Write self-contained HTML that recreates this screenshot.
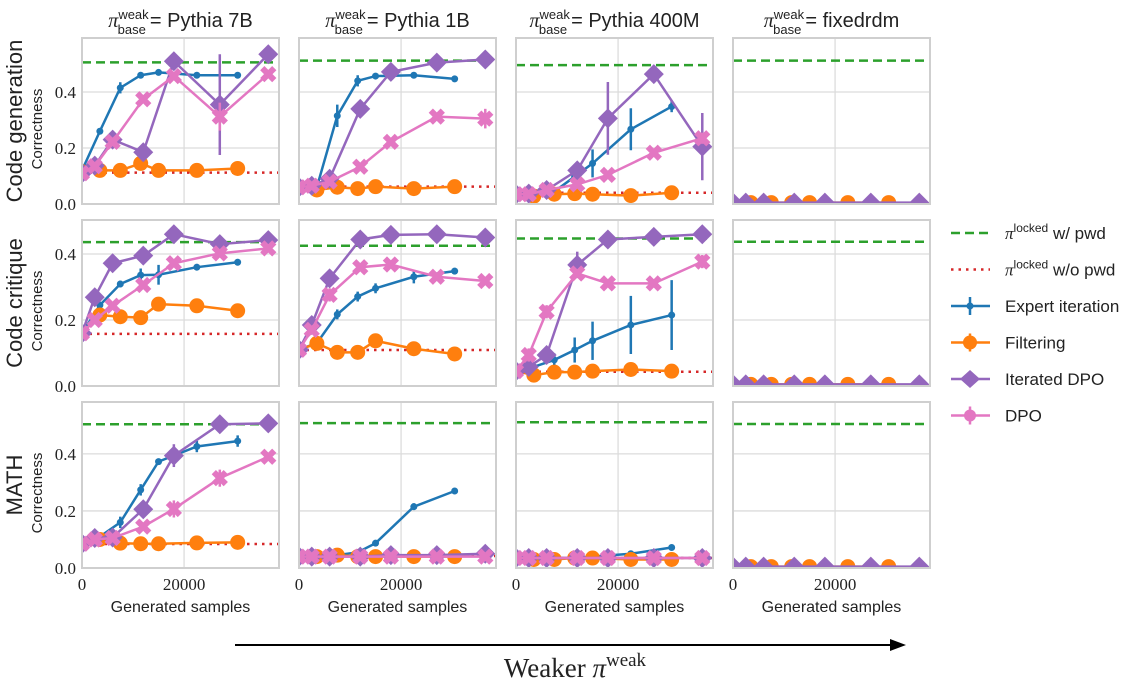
<!DOCTYPE html>
<html><head><meta charset="utf-8"><style>
body{margin:0;background:#fff}
svg text{font-family:"Liberation Sans",sans-serif;fill:#222}
.serif{font-family:"Liberation Serif",serif}
</style></head><body>
<svg id="fig" width="1133" height="683" viewBox="0 0 1133 683" xmlns="http://www.w3.org/2000/svg"></svg>
<script>
// ---- data ----
const colTitles = ["Pythia 7B","Pythia 1B","Pythia 400M","fixedrdm"];
const rowTitles = ["Code generation","Code critique","MATH"];
const xsA = [0,3500,7500,11500,15000,22500,30500];
const xsB = [0,2500,6000,12000,18000,27000,36500];
const xsC = [3500,7500,11500,15000,22500,30500];
const yTicks = [0,0.2,0.4];
const xTicks = [0,20000];
const greenVals = [0.506,0.512,0.496,0.512, 0.436,0.425,0.447,0.437, 0.504,0.508,0.511,0.505];
const redVals   = [0.112,0.062,0.040,null, 0.158,0.109,0.043,null, 0.084,0.042,0.035,null];
const blueVals = [
 [0.12,0.26,0.415,0.46,0.47,0.46,0.46],[0.06,0.06,0.315,0.44,0.457,0.46,0.447],[0.035,0.035,0.044,0.098,0.145,0.267,0.348],null,
 [0.16,0.245,0.309,0.336,0.337,0.36,0.375],[0.11,0.13,0.217,0.271,0.296,0.331,0.348],[0.045,0.058,0.079,0.109,0.137,0.185,0.215],null,
 [0.085,0.11,0.16,0.274,0.373,0.426,0.445],[0.04,0.04,0.045,0.055,0.087,0.215,0.27],[0.035,0.035,0.035,0.035,0.04,0.05,0.072],null];
const blueErr = [
 [0,0.01,0.02,0.01,0.008,0.01,0.01],[0,0,0.04,0.02,0.01,0.01,0],[0,0,0.01,0.03,0.05,0.075,0.02],null,
 [0,0.01,0.01,0.02,0.03,0.01,0.01],[0,0.01,0.015,0.015,0.015,0.02,0.01],[0,0.005,0.02,0.038,0.058,0.088,0.106],null,
 [0,0.01,0.02,0.02,0.01,0.02,0.02],[0,0,0,0,0.01,0.012,0.01],[0,0,0,0,0,0,0.008],null];
const orangeVals = [
 [0.115,0.12,0.12,0.145,0.12,0.12,0.127],[0.06,0.05,0.06,0.055,0.062,0.055,0.062],[0.035,0.028,0.035,0.037,0.035,0.03,0.04],[0.005,0.005,0.005,0.005,0.005,0.005],
 [0.16,0.215,0.21,0.207,0.248,0.243,0.228],[0.11,0.129,0.102,0.102,0.137,0.113,0.097],[0.045,0.033,0.042,0.042,0.045,0.05,0.045],[0.005,0.005,0.005,0.005,0.005,0.005],
 [0.085,0.1,0.087,0.085,0.085,0.088,0.09],[0.04,0.04,0.045,0.04,0.04,0.04,0.04],[0.035,0.03,0.03,0.035,0.035,0.03,0.03],[0.005,0.005,0.005,0.005,0.005,0.005]];
const purpleVals = [
 [0.11,0.137,0.23,0.185,0.51,0.355,0.535],[0.06,0.065,0.09,0.34,0.472,0.505,0.516],[0.035,0.037,0.05,0.12,0.306,0.464,0.205],[0.005,0.005,0.005,0.005,0.005,0.005,0.005],
 [0.16,0.269,0.372,0.395,0.46,0.43,0.442],[0.11,0.185,0.326,0.444,0.458,0.46,0.45],[0.045,0.058,0.094,0.367,0.444,0.452,0.46],[0.005,0.005,0.005,0.005,0.005,0.005,0.005],
 [0.085,0.105,0.107,0.206,0.394,0.504,0.507],[0.04,0.04,0.04,0.04,0.045,0.045,0.05],[0.035,0.035,0.035,0.035,0.035,0.035,0.035],[0.005,0.005,0.005,0.005,0.005,0.005,0.005]];
const purpleErr = [
 [0,0,0.01,0.02,0.01,0.18,0.01],[0,0,0,0.01,0.01,0.01,0.01],[0,0,0,0.03,0.13,0.01,0.12],null,
 [0,0,0,0,0,0,0],[0,0,0.02,0,0,0,0],[0,0,0,0.04,0,0,0],null,
 [0,0,0,0.01,0.04,0,0],[0,0,0,0,0,0,0],[0,0,0,0,0,0,0],null];
const pinkVals = [
 [0.11,0.135,0.222,0.374,0.457,0.312,0.464],[0.06,0.065,0.08,0.133,0.222,0.312,0.305],[0.035,0.035,0.05,0.07,0.104,0.183,0.235],null,
 [0.16,0.2,0.243,0.306,0.372,0.402,0.417],[0.11,0.17,0.276,0.36,0.368,0.331,0.318],[0.045,0.094,0.225,0.341,0.311,0.311,0.377],null,
 [0.085,0.1,0.105,0.145,0.207,0.315,0.39],[0.04,0.04,0.04,0.04,0.04,0.04,0.04],[0.035,0.035,0.035,0.035,0.035,0.035,0.035],null];
const pinkErr = [
 [0,0,0.01,0.01,0.01,0.05,0.01],[0,0,0,0.01,0.01,0.01,0.035],[0,0,0,0.01,0.01,0.01,0.02],null,
 [0,0,0.01,0.01,0.01,0.01,0.01],[0,0,0.02,0.01,0.01,0.01,0.01],[0,0.02,0.02,0.01,0.01,0.01,0.02],null,
 [0,0,0,0.01,0.03,0.03,0.01],[0,0,0,0,0,0,0],[0,0,0,0,0,0,0],null];
const yMaxRow = [0.593,0.503,0.582];

// ---- layout ----
const colX=[82,299,516,733], rowY=[38,220,402], PW=197, PH=166, XMAX=38600;
const C={blue:"#1f77b4",orange:"#ff7f0e",purple:"#9467bd",pink:"#e377c2",green:"#2ca02c",red:"#d62728"};
const svg=document.getElementById('fig'), NS="http://www.w3.org/2000/svg";
function mk(tag,attrs,parent){const e=document.createElementNS(NS,tag);for(const k in attrs)e.setAttribute(k,attrs[k]);(parent||svg).appendChild(e);return e;}
const defs=mk('defs',{});

function drawMarker(g,type,x,y,color){
  let m;
  if(type==='circle'){m=mk('circle',{cx:x,cy:y,r:7.5,fill:color},g);}
  else if(type==='dot'){m=mk('circle',{cx:x,cy:y,r:3.5,fill:color},g);}
  else if(type==='diamond'){m=mk('polygon',{points:`${x},${y-10} ${x+10},${y} ${x},${y+10} ${x-10},${y}`,fill:color},g);}
  else {m=mk('path',{d:`M${x-6},${y-6}L${x+6},${y+6}M${x+6},${y-6}L${x-6},${y+6}`,stroke:color,'stroke-width':6,fill:'none'},g);}
  
  
}

for(let r=0;r<3;r++){
  for(let c=0;c<4;c++){
    const i=r*4+c, x0=colX[c], y0=rowY[r], ymax=yMaxRow[r];
    const sx=v=>x0+v/XMAX*PW, sy=v=>y0+PH-v/ymax*PH;
    const cp=mk('clipPath',{id:'cp'+i},defs); mk('rect',{x:x0,y:y0,width:PW,height:PH},cp);
    const g=mk('g',{});
    
    
    yTicks.forEach(t=>{ if(t>0) mk('line',{x1:x0,x2:x0+PW,y1:sy(t),y2:sy(t),stroke:'#dcdcdc','stroke-width':1.3},g); });
    xTicks.forEach(t=>{ if(t>0) mk('line',{x1:sx(t),x2:sx(t),y1:y0,y2:y0+PH,stroke:'#dcdcdc','stroke-width':1.3},g); });
    const pg=mk('g',{'clip-path':`url(#cp${i})`},g);
    mk('line',{x1:x0,x2:x0+PW,y1:sy(greenVals[i]),y2:sy(greenVals[i]),stroke:C.green,'stroke-width':2.5,'stroke-dasharray':'9,5'},pg);
    if(redVals[i]!==null) mk('line',{x1:x0,x2:x0+PW,y1:sy(redVals[i]),y2:sy(redVals[i]),stroke:C.red,'stroke-width':2.5,'stroke-dasharray':'2.5,5'},pg);
    const series=[
      [blueVals[i],blueErr[i],xsA,C.blue,'dot','expert-iteration'],
      [orangeVals[i],null,c===3?xsC:xsA,C.orange,'circle','filtering'],
      [purpleVals[i],purpleErr[i],xsB,C.purple,'diamond','iterated-dpo'],
      [pinkVals[i],pinkErr[i],xsB,C.pink,'x','dpo']];
    series.forEach(([vals,err,xs,col,mt,nm])=>{
      if(!vals) return;
      const sg=mk('g',{},pg);
      
      
      const pts=vals.map((v,k)=>sx(xs[k])+','+sy(v)).join(' ');
      mk('polyline',{points:pts,fill:'none',stroke:col,'stroke-width':2.5},sg);
      vals.forEach((v,k)=>{
        if(err&&err[k]>0) mk('line',{x1:sx(xs[k]),x2:sx(xs[k]),y1:sy(v-err[k]),y2:sy(v+err[k]),stroke:col,'stroke-width':2.5},sg);
        drawMarker(sg,mt,sx(xs[k]),sy(v),col);
      });
    });
    const fr=mk('rect',{x:x0,y:y0,width:PW,height:PH,fill:'none',stroke:'#cfcfcf','stroke-width':2},g);
    
    
    if(c===0){
      yTicks.forEach(t=>{const tt=mk('text',{x:x0-6,y:sy(t)+6,'text-anchor':'end','font-size':17,class:'serif'},g);tt.textContent=t.toFixed(1);
        });
      const rl=mk('text',{transform:`translate(22,${y0+PH/2}) rotate(-90)`,'text-anchor':'middle','font-size':22},g);rl.textContent=rowTitles[r];
      
      const yl=mk('text',{transform:`translate(42,${y0+PH/2+8}) rotate(-90)`,'text-anchor':'middle','font-size':15},g);yl.textContent='Correctness';
      
    }
    if(r===2){
      xTicks.forEach(t=>{const tt=mk('text',{x:sx(t),y:y0+PH+22,'text-anchor':'middle','font-size':17,class:'serif'},g);tt.textContent=String(t);
        });
      const xl=mk('text',{x:x0+PW/2,y:612,'text-anchor':'middle','font-size':16},g);xl.textContent='Generated samples';
      
    }
    if(r===0){
      const t=mk('text',{x:x0+PW/2,y:27,'text-anchor':'middle','font-size':20},g);
      t.innerHTML=`<tspan class="serif" font-style="italic">π</tspan><tspan font-size="13" dy="-8">weak</tspan><tspan font-size="13" dx="-31" dy="15">base</tspan><tspan dy="-7" dx="4">= ${colTitles[c]}</tspan>`;
      
      
    }
  }
}
// legend
const lg=mk('g',{});


const legItems=[['green','dash','locked w/ pwd'],['red','dot','locked w/o pwd'],['blue','dot2','Expert iteration'],['orange','circle','Filtering'],['purple','diamond','Iterated DPO'],['pink','x','DPO']];
legItems.forEach(([col,t,label],k)=>{
  const y=233+k*36.5, e=mk('g',{},lg);
  
  
  const la={x1:951,x2:990,y1:y,y2:y,stroke:C[col],'stroke-width':2.5};
  if(t==='dash')la['stroke-dasharray']='9,5';
  if(t==='dot')la['stroke-dasharray']='2.5,5';
  mk('line',la,e);
  if(t==='dot2'){mk('line',{x1:970,x2:970,y1:y-9,y2:y+9,stroke:C.blue,'stroke-width':2.5},e);mk('circle',{cx:970,cy:y,r:3.5,fill:C.blue},e);}
  else if(t==='circle'){mk('line',{x1:970,x2:970,y1:y-9,y2:y+9,stroke:C.orange,'stroke-width':2.5},e);mk('circle',{cx:970,cy:y,r:7,fill:C.orange},e);}
  else if(t==='diamond'){mk('polygon',{points:`970,${y-9} 980,${y} 970,${y+9} 960,${y}`,fill:C.purple},e);}
  else if(t==='x'){mk('line',{x1:970,x2:970,y1:y-9,y2:y+9,stroke:C.pink,'stroke-width':2.5},e);mk('circle',{cx:970,cy:y,r:6,fill:C.pink},e);}
  const tx=mk('text',{x:1005,y:y+6,'font-size':17},e);
  if(t==='dash'||t==='dot') tx.innerHTML=`<tspan class="serif" font-style="italic">π</tspan><tspan font-size="12" dy="-7">locked</tspan><tspan dy="7"> ${label.replace('locked ','')}</tspan>`;
  else tx.textContent=label;
});
// bottom arrow
const ar=mk('g',{});


mk('line',{x1:235,x2:892,y1:645,y2:645,stroke:'#000','stroke-width':2},ar);
mk('polygon',{points:'906,645 890,639 890,651',fill:'#000'},ar);
const wt=mk('text',{x:575,y:677,'text-anchor':'middle','font-size':27,class:'serif'});
wt.innerHTML='Weaker <tspan font-style="italic">π</tspan><tspan font-size="19" dy="-11">weak</tspan>';


</script>
</body></html>
